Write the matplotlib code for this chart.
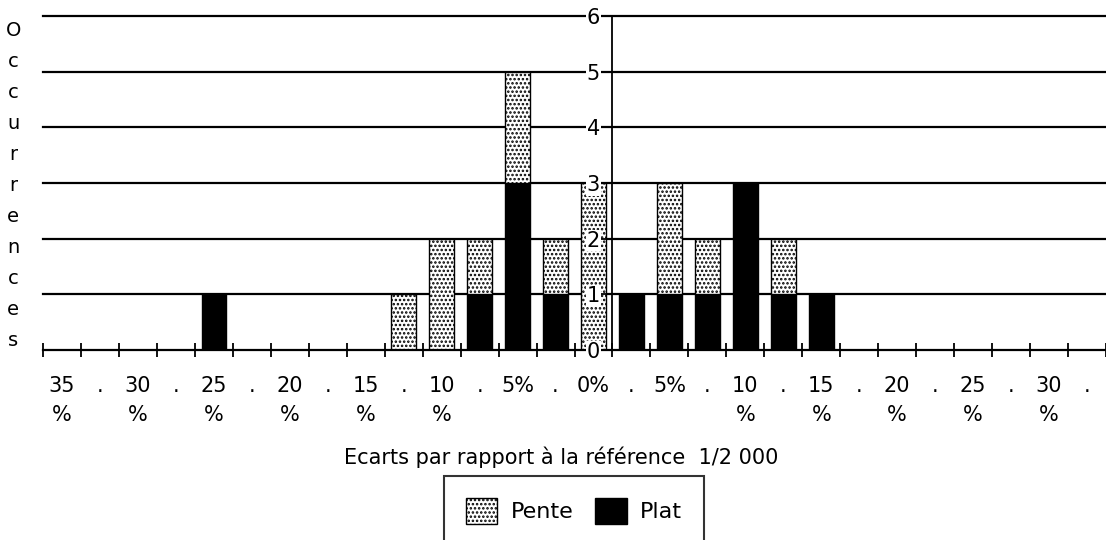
import matplotlib.pyplot as plt
from matplotlib.patches import Patch

# écarts : -35 % à +32,5 % par pas de 2,5 %
categories = ["35\n%", ".", "30\n%", ".", "25\n%", ".", "20\n%", ".",
              "15\n%", ".", "10\n%", ".", "5%", ".", "0%", ".",
              "5%", ".", "10\n%", ".", "15\n%", ".", "20\n%", ".",
              "25\n%", ".", "30\n%", "."]
plat = [0, 0, 0, 0, 1, 0, 0, 0, 0, 0, 0, 1, 3, 1, 0,
        1, 1, 1, 3, 1, 1, 0, 0, 0, 0, 0, 0, 0]
pente = [0, 0, 0, 0, 0, 0, 0, 0, 0, 1, 2, 1, 2, 1, 3,
         0, 2, 1, 0, 1, 0, 0, 0, 0, 0, 0, 0, 0]
yticks = [0, 1, 2, 3, 4, 5, 6]

plt.rcParams['font.family'] = 'DejaVu Sans'
plt.rcParams['hatch.linewidth'] = 1.2

fig = plt.figure(figsize=(11.06, 5.40), dpi=100)
ax = fig.add_axes([43 / 1106, 190 / 540, 1 - 43 / 1106, 334 / 540])

x = list(range(len(categories)))
ax.bar(x, plat, width=0.65, color='black', edgecolor='black', linewidth=1, zorder=2)
ax.bar(x, pente, bottom=plat, width=0.65, color='white', edgecolor='black',
       hatch='....', linewidth=1, zorder=2)

ax.set_xlim(-0.5, len(categories) - 0.52)
ax.set_ylim(0, 6)

# grille horizontale sous les barres, graduations par-dessus
ax.set_axisbelow(False)
for v in yticks[1:]:
    ax.axhline(v, color='black', linewidth=1.6, zorder=1, clip_on=False)

# axe vertical placé entre 0 % et +2,5 %
ax.spines['left'].set_position(('data', 14.5))
ax.spines['left'].set_linewidth(1.3)
ax.spines['bottom'].set_linewidth(1.6)
ax.spines['top'].set_visible(False)
ax.spines['right'].set_visible(False)

ax.set_yticks(yticks)
ax.tick_params(axis='y', direction='out', length=8, width=1.3, pad=1, labelsize=15)
for lab in ax.get_yticklabels():
    lab.set_bbox(dict(facecolor='white', edgecolor='none', pad=0.5))

ax.set_xticks(x)
ax.set_xticklabels(categories, fontsize=15, linespacing=1.55, va='top')
ax.tick_params(axis='x', which='major', length=0, pad=19)
ax.set_xticks([i - 0.5 for i in range(len(categories) + 1)], minor=True)
ax.tick_params(axis='x', which='minor', direction='inout', length=10, width=1.3)

fig.text(0.012, 0.962, "O\nc\nc\nu\nr\nr\ne\nn\nc\ne\ns", fontsize=14,
         ha='center', va='top', linespacing=1.8)

fig.text(561 / 1106, 1 - 457 / 540, "Ecarts par rapport à la référence  1/2 000",
         fontsize=15, ha='center', va='center')

handles = [Patch(facecolor='white', edgecolor='black', hatch='....', label='Pente'),
           Patch(facecolor='black', edgecolor='black', label='Plat')]
leg = fig.legend(handles=handles, loc='upper center', bbox_to_anchor=(574 / 1106, 1 - 476 / 540),
                 ncol=2, fontsize=16, frameon=True, fancybox=False, edgecolor='black',
                 handlelength=1.4, handleheight=1.4, borderpad=1.0, columnspacing=1.0,
                 handletextpad=0.6, borderaxespad=0)
leg.get_frame().set_linewidth(1.5)

fig.savefig("out.png", dpi=100)
